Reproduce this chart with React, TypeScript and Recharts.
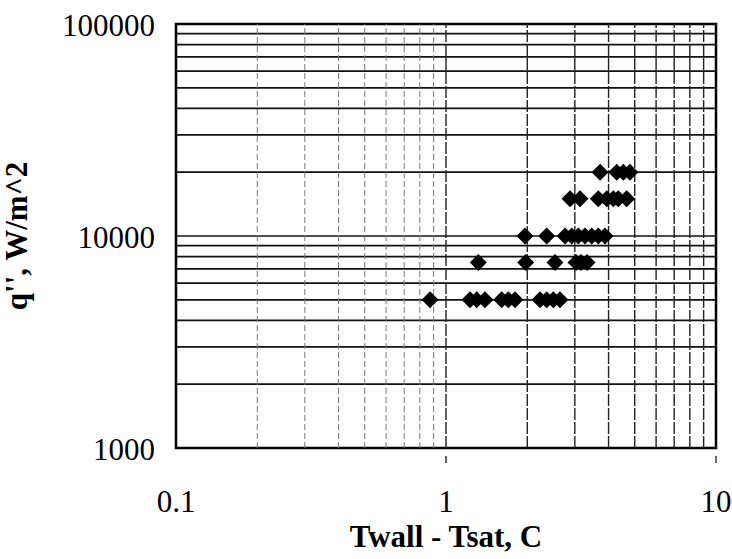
import { ScatterChart, Scatter, XAxis, YAxis, CartesianGrid, ReferenceLine, ReferenceArea } from 'recharts';

// heat flux levels, W/m^2, and the wall superheats read at each level
const q5000 = [0.873, 1.227, 1.299, 1.394, 1.608, 1.701, 1.801, 2.229, 2.36, 2.497, 2.644];
const q7500 = [1.317, 1.973, 2.533, 3.03, 3.16, 3.33];
const q10000 = [1.962, 2.36, 2.76, 2.922, 3.09, 3.27, 3.465, 3.665, 3.88];
const q15000 = [2.88, 3.135, 3.665, 3.94, 4.165, 4.345, 4.67];
const q20000 = [3.72, 4.29, 4.54, 4.8];

const xTicks = [0.1, 0.2, 0.3, 0.4, 0.5, 0.6, 0.7, 0.8, 0.9, 1, 2, 3, 4, 5, 6, 7, 8, 9, 10];
const yTicks = [
  1000, 2000, 3000, 4000, 5000, 6000, 7000, 8000, 9000,
  10000, 20000, 30000, 40000, 50000, 60000, 70000, 80000, 90000, 100000,
];
const xMajor = [0.1, 1, 10];
const yMajor = [1000, 10000, 100000];

const rows: [number, number[]][] = [
  [5000, q5000],
  [7500, q7500],
  [10000, q10000],
  [15000, q15000],
  [20000, q20000],
];
const data = rows.flatMap(([q, xs]) => xs.map((dt) => ({ dt, q })));

const FONT = '"Liberation Serif", "Times New Roman", serif';

const Diamond = (props: any) => {
  const { cx, cy } = props;
  if (cx == null || cy == null) return null;
  return (
    <polygon
      points={`${cx - 8.5},${cy} ${cx},${cy - 8.5} ${cx + 8.5},${cy} ${cx},${cy + 8.5}`}
      fill="#000"
    />
  );
};

const XTick = ({ x, y, payload }: any) => {
  if (!xMajor.includes(payload.value)) return null;
  return (
    <g>
      {payload.value !== 0.1 && <line x1={x} y1={y} x2={x} y2={y + 7} stroke="#000" strokeWidth={1.2} />}
      <text x={x} y={y + 45} textAnchor="middle" dominantBaseline="central" fontFamily={FONT} fontSize={31} fill="#000">
        {payload.value}
      </text>
    </g>
  );
};

const YTick = ({ y, payload }: any) => {
  if (!yMajor.includes(payload.value)) return null;
  return (
    <text x={155} y={y + 1} textAnchor="end" dominantBaseline="central" fontFamily={FONT} fontSize={31} fill="#000">
      {payload.value}
    </text>
  );
};

export default function App() {
  return (
    <div style={{ position: 'absolute', left: 0, top: 0, background: '#fff' }}>
      <ScatterChart width={732} height={559} margin={{ top: 24, right: 16, bottom: 0, left: 0 }}>
        <CartesianGrid horizontal={true} vertical={false} stroke="#111" strokeWidth={1.7} />
        {xTicks.slice(1, -1).map((t) => (
          <ReferenceLine
            key={t}
            x={t}
            stroke={t < 1 ? '#777' : '#222'}
            strokeWidth={t < 1 ? 1 : 1.4}
            strokeDasharray={t < 1 ? '6 3' : '12 2'}
          />
        ))}
        <XAxis
          dataKey="dt"
          type="number"
          scale="log"
          domain={[0.1, 10]}
          ticks={xTicks}
          interval={0}
          allowDataOverflow
          height={111}
          tick={<XTick />}
          tickLine={false}
          axisLine={false}
          label={{ value: 'Twall - Tsat, C', position: 'insideBottom', offset: 12, style: { fontFamily: FONT, fontSize: 31, fontWeight: 'bold', fill: '#000' } }}
        />
        <YAxis
          dataKey="q"
          type="number"
          scale="log"
          domain={[1000, 100000]}
          ticks={yTicks}
          interval={0}
          allowDataOverflow
          width={176}
          tick={<YTick />}
          tickLine={false}
          axisLine={false}
          label={{ value: "q'', W/m^2", angle: -90, position: 'insideLeft', offset: 16, style: { fontFamily: FONT, fontSize: 31, fontWeight: 'bold', fill: '#000', textAnchor: 'middle' } }}
        />
        <ReferenceArea x1={0.1} x2={10} y1={1000} y2={100000} fill="none" stroke="#000" strokeWidth={2.5} ifOverflow="visible" />
        <Scatter data={data} shape={<Diamond />} isAnimationActive={false} />
      </ScatterChart>
    </div>
  );
}
